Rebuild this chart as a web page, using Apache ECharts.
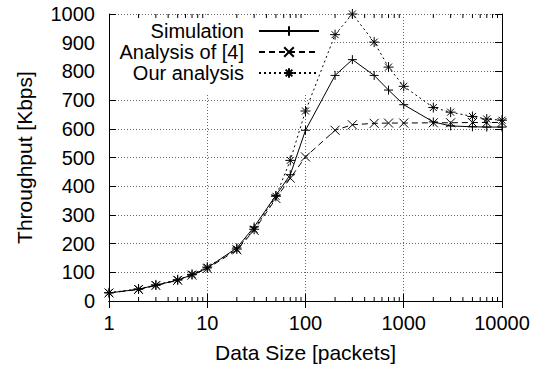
<!DOCTYPE html>
<html>
<head>
<meta charset="utf-8">
<script src="https://cdn.jsdelivr.net/npm/echarts@6/dist/echarts.min.js"></script>
<style>
html,body{margin:0;padding:0;background:#fff;}
#chart{width:537px;height:372px;}
</style>
</head>
<body>
<div id="chart"></div>
<script>
// ---- data ----
const dataSizes = [1, 2, 3, 5, 7, 10, 20, 30, 50, 70, 100, 200, 300, 500, 700, 1000, 2000, 3000, 5000, 7000, 10000];
const simulation = [28, 41, 55, 73, 91, 115, 185, 258, 368, 440, 595, 786, 841, 786, 735, 684, 624, 610, 607, 606, 606];
const analysisOf4 = [28, 40, 54, 72, 90, 113, 178, 246, 357, 428, 502, 595, 614, 619, 620, 620, 621, 621, 622, 622, 622];
const ourAnalysis = [29, 42, 56, 74, 93, 118, 181, 250, 365, 490, 662, 928, 1000, 902, 815, 748, 674, 658, 643, 634, 630];
const seriesNames = ['Simulation', 'Analysis of [4]', 'Our analysis'];
const xMinorTicks = [2,3,4,5,6,7,8,9, 20,30,40,50,60,70,80,90, 200,300,400,500,600,700,800,900, 2000,3000,4000,5000,6000,7000,8000,9000];
const yMin = 0, yMax = 1000, yStep = 100;
const xMin = 1, xMax = 10000;
const xTitle = 'Data Size [packets]';
const yTitle = 'Throughput [Kbps]';

// ---- chart ----
const FONT = 'Liberation Sans';
const chart = echarts.init(document.getElementById('chart'), null, {renderer: 'svg'});

const pairs = arr => dataSizes.map((x, i) => [x, arr[i]]);
const symPlus = 'path://M0,-1L0,1M-1,0L1,0';
const symCross = 'path://M-1,-1L1,1M-1,1L1,-1';
const symStar = 'path://M0,-1L0,1M-1,0L1,0M-0.7,-0.7L0.7,0.7M-0.7,0.7L0.7,-0.7';

const gridLine = {show: true, lineStyle: {color: '#666', type: [1, 2], width: 1}};
const legendTops = [21, 42, 63];

const option = {
  animation: false,
  backgroundColor: '#fff',
  textStyle: {fontFamily: FONT},
  grid: {left: 109, right: 35, top: 14, bottom: 71, containLabel: false},
  xAxis: [
    {
      type: 'log', logBase: 10, min: xMin, max: xMax, position: 'bottom',
      axisLine: {show: true, lineStyle: {color: '#000', width: 1}},
      axisTick: {show: true, inside: true, length: 7, lineStyle: {color: '#000'}},
      axisLabel: {show: true, color: '#000', fontSize: 20, fontFamily: FONT, margin: 12,
        formatter: v => String(Math.round(v))},
      splitLine: gridLine,
      name: xTitle, nameLocation: 'middle', nameGap: 41,
      nameTextStyle: {color: '#000', fontSize: 21, fontFamily: FONT}
    },
    {
      type: 'log', logBase: 10, min: xMin, max: xMax, position: 'top',
      axisLine: {show: true, lineStyle: {color: '#000', width: 1}},
      axisTick: {show: true, inside: true, length: 7, lineStyle: {color: '#000'}},
      axisLabel: {show: false}, splitLine: {show: false}
    }
  ],
  yAxis: [
    {
      type: 'value', min: yMin, max: yMax, interval: yStep, position: 'left',
      axisLine: {show: true, lineStyle: {color: '#000', width: 1}},
      axisTick: {show: true, inside: true, length: 7, lineStyle: {color: '#000'}},
      axisLabel: {show: true, color: '#000', fontSize: 20, fontFamily: FONT, margin: 14,
        formatter: v => String(v)},
      splitLine: gridLine,
      name: yTitle, nameLocation: 'middle', nameGap: 74, nameRotate: 90,
      nameTextStyle: {color: '#000', fontSize: 21, fontFamily: FONT}
    },
    {
      type: 'value', min: yMin, max: yMax, interval: yStep, position: 'right',
      axisLine: {show: true, lineStyle: {color: '#000', width: 1}},
      axisTick: {show: true, inside: true, length: 7, lineStyle: {color: '#000'}},
      axisLabel: {show: false}, splitLine: {show: false}
    }
  ],
  graphic: {elements: [{
    type: 'rect', z: 1, silent: true,
    shape: {x: 110, y: 15, width: 222, height: 79},
    style: {fill: '#fff'}
  }]},
  legend: seriesNames.map((n, i) => ({
    data: [n], orient: 'vertical', align: 'right', right: 217, top: legendTops[i],
    itemWidth: 60, itemHeight: 12, padding: 0, selectedMode: false, z: 5,
    textStyle: {color: '#000', fontSize: 20, fontFamily: FONT, lineHeight: 20, padding: [0, 10, 0, 0]}
  })),
  series: [
    {
      // minor log ticks (2..9 of each decade) on bottom and top edges
      name: 'minor ticks', type: 'custom', xAxisIndex: 0, yAxisIndex: 0, silent: true, z: 4,
      data: xMinorTicks.map(v => [v, yMin]),
      encode: {x: 0, y: 1},
      renderItem: (params, api) => {
        const v = api.value(0);
        const b = api.coord([v, yMin]);
        const t = api.coord([v, yMax]);
        return {type: 'group', children: [
          {type: 'line', shape: {x1: b[0], y1: b[1], x2: b[0], y2: b[1] - 4}, style: {stroke: '#000', lineWidth: 1}},
          {type: 'line', shape: {x1: t[0], y1: t[1], x2: t[0], y2: t[1] + 4}, style: {stroke: '#000', lineWidth: 1}}
        ]};
      }
    },
    {
      name: seriesNames[0], type: 'line', data: pairs(simulation), xAxisIndex: 0, yAxisIndex: 0,
      symbol: symPlus, symbolSize: 9, showAllSymbol: true, z: 3,
      lineStyle: {color: '#000', width: 1, type: 'solid'},
      itemStyle: {color: '#000', borderColor: '#000', borderWidth: 1}
    },
    {
      name: seriesNames[1], type: 'line', data: pairs(analysisOf4), xAxisIndex: 0, yAxisIndex: 0,
      symbol: symCross, symbolSize: 9, showAllSymbol: true, z: 3,
      lineStyle: {color: '#000', width: 1, type: [6, 4]},
      itemStyle: {color: '#000', borderColor: '#000', borderWidth: 1}
    },
    {
      name: seriesNames[2], type: 'line', data: pairs(ourAnalysis), xAxisIndex: 0, yAxisIndex: 0,
      symbol: symStar, symbolSize: 10, showAllSymbol: true, z: 3,
      lineStyle: {color: '#000', width: 1, type: [2, 3]},
      itemStyle: {color: '#000', borderColor: '#000', borderWidth: 1}
    }
  ]
};
chart.setOption(option);
</script>
</body>
</html>
